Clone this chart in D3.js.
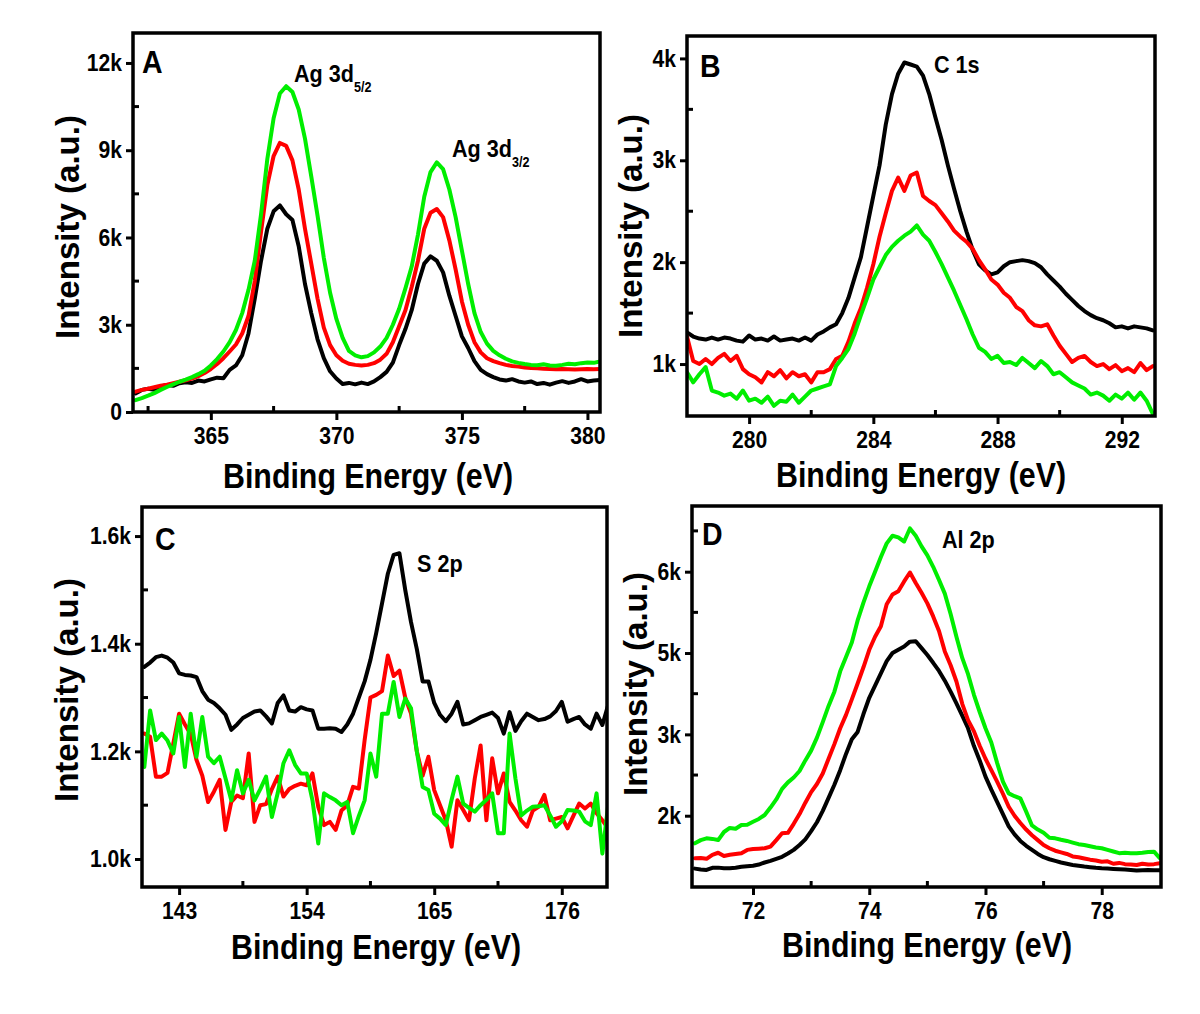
<!DOCTYPE html>
<html><head><meta charset="utf-8">
<script src="https://cdn.jsdelivr.net/npm/d3@7"></script>
<style>
body{margin:0;background:#fff;}
svg{display:block;}
text{font-family:"Liberation Sans",Arial,sans-serif;font-weight:bold;fill:#000;}
</style></head><body>
<script>
// ---------- DATA ----------
// Panel A : Ag 3d (energy grid 362.0 .. 380.5, step 0.25 eV)
const energyA = d3.range(0, 75).map(i => +(362 + i * 0.25).toFixed(2));
const agBlack = [640,760,800,760,880,930,900,990,1020,1000,1080,1050,1120,1180,1160,1450,1600,1950,2700,3900,5200,6300,6900,7100,6800,6600,5700,4400,3400,2500,1850,1400,1150,960,1000,950,1010,960,1050,1200,1380,1700,2300,2850,3500,4400,5100,5350,5200,4800,4000,3300,2600,2200,1750,1450,1300,1200,1120,1080,1130,1050,1010,1050,960,1000,940,1010,1060,1000,1050,1130,1050,1080,1100];
const agRed = [700,760,800,850,900,940,990,1040,1090,1150,1230,1340,1480,1650,1850,2080,2320,2700,3300,4500,6200,7800,8800,9250,9150,8650,7650,6300,5100,3900,2900,2300,1950,1760,1660,1620,1600,1620,1680,1800,2000,2400,2950,3500,4300,5200,6300,6850,6980,6700,5900,4900,3800,3000,2400,2050,1850,1750,1680,1620,1580,1560,1530,1510,1500,1490,1480,1470,1480,1470,1460,1470,1480,1470,1480];
const agGreen = [410,480,560,650,760,860,950,1040,1110,1200,1300,1420,1600,1820,2080,2400,2820,3400,4200,5200,6800,8700,10100,10950,11200,11000,10400,9400,8100,6750,5300,4100,3200,2550,2100,1950,1880,1920,2050,2250,2550,3000,3550,4250,5000,6100,7400,8250,8580,8350,7650,6700,5550,4400,3400,2750,2350,2100,1950,1830,1740,1690,1650,1620,1610,1640,1600,1590,1620,1660,1640,1680,1700,1690,1740];

// Panel B : C 1s (278.0 .. 293.0, step 0.2 eV)
const energyB = d3.range(0, 76).map(i => +(278 + i * 0.2).toFixed(2));
const cBlack = [1310,1270,1250,1240,1260,1240,1260,1250,1230,1220, 1280,1240,1250,1230,1270,1230,1240,1250,1230,1260, 1230,1290,1320,1360,1390,1500,1650,1850,2050,2350, 2650,2950,3350,3650,3850,3960,3940,3920,3830,3650, 3420,3200,2950,2720,2500,2300,2120,1980,1920,1880, 1900,1960,2000,2010,2020,2010,1990,1950,1880,1820, 1760,1690,1630,1570,1520,1480,1450,1430,1400,1360, 1370,1350,1370,1360,1350,1330];
const cRed = [1270,1030,1000,1050,1000,1060,1100,1030,1080,950, 900,870,820,920,880,940,860,920,880,900, 820,920,920,950,1050,1080,1220,1400,1550,1750, 1980,2250,2480,2700,2830,2700,2850,2880,2650,2600, 2560,2480,2400,2310,2250,2200,2130,2020,1930,1830, 1780,1700,1650,1560,1520,1430,1380,1370,1390,1280, 1180,1100,1020,1060,1080,1020,980,1000,950,990, 930,960,920,1010,940,980];
const cGreen = [920,820,900,970,740,720,690,710,660,740, 640,660,620,680,590,640,630,700,620,680, 740,760,780,800,980,1060,1150,1300,1480,1650, 1830,1950,2070,2150,2210,2260,2300,2360,2270,2210, 2100,1980,1850,1720,1580,1440,1290,1160,1120,1050, 1080,1010,1020,990,1060,1010,960,1030,980,900, 920,870,820,790,760,700,720,690,640,700, 660,720,650,720,640,510];

// Panel C : S 2p (140 .. 180, step 0.5 eV)
const energyC = d3.range(0, 81).map(i => 140 + i * 0.5);
const sBlack = [1357,1365,1375,1378,1374,1365,1345,1342,1341,1338, 1312,1296,1290,1280,1268,1240,1250,1262,1268,1274, 1276,1265,1252,1290,1304,1276,1274,1282,1278,1276, 1242,1242,1243,1242,1236,1250,1270,1300,1330,1370, 1420,1475,1530,1565,1568,1500,1440,1390,1330,1330, 1290,1268,1256,1270,1292,1250,1252,1258,1264,1268, 1272,1262,1233,1273,1238,1256,1270,1264,1258,1260, 1265,1275,1292,1255,1260,1264,1250,1242,1270,1249, 1286];
const sRed = [1233,1227,1153,1153,1160,1215,1270,1250,1232,1184, 1155,1106,1125,1147,1054,1106,1118,1113,1196,1069, 1100,1102,1130,1153,1116,1130,1136,1140,1137,1159, 1097,1063,1069,1054,1090,1100,1134,1131,1221,1300, 1305,1312,1378,1340,1350,1300,1270,1200,1155,1190, 1128,1100,1072,1023,1109,1091,1072,1150,1211,1072, 1187,1122,1159,1106,1090,1072,1060,1090,1097,1119, 1072,1075,1078,1057,1080,1103,1094,1103,1085,1072, 1057];
const sGreen = [1171,1276,1221,1233,1220,1196,1264,1171,1270,1190, 1264,1190,1178,1190,1150,1109,1165,1122,1147,1109, 1130,1153,1078,1122,1178,1202,1175,1159,1159,1109, 1029,1122,1115,1109,1100,1106,1048,1080,1109,1196, 1153,1270,1270,1329,1264,1298,1280,1200,1134,1128, 1084,1075,1063,1110,1153,1103,1095,1088,1100,1110, 1122,1048,1048,1233,1150,1081,1090,1097,1098,1100, 1081,1060,1070,1091,1090,1088,1070,1063,1122,1010, 1100];

// Panel D : Al 2p (71.0 .. 79.0, step 0.1 eV)
const energyD = d3.range(0, 81).map(i => +(71 + i * 0.1).toFixed(1));
const alBlack = [1350,1340,1333,1360,1362,1355,1354,1360,1372,1380, 1385,1400,1425,1445,1470,1495,1535,1580,1640,1710, 1810,1920,2060,2220,2380,2560,2760,2940,3060,3500, 3900,4200,4500,4800,5000,5040,5080,5140,5145,5060, 4950,4760,4560,4320,4050,3760,3460,3150,2860,2680, 2480,2320,2170,2020,1870,1770,1690,1630,1580,1530, 1490,1465,1445,1425,1410,1395,1385,1375,1368,1360, 1354,1350,1346,1342,1338,1334,1326,1330,1332,1330, 1330];
const alRed = [1477,1480,1470,1520,1545,1505,1520,1530,1540,1580, 1590,1595,1600,1620,1700,1784,1790,1900,2020,2160, 2290,2390,2520,2700,2880,3150,3480,3860,4250,4650, 5040,5200,5330,5600,5720,5760,5880,5990,5860,5740, 5610,5450,5270,5020,4700,4300,3750,3350,3080,2860, 2700,2560,2420,2270,2110,2000,1910,1830,1760,1700, 1640,1600,1570,1550,1530,1500,1490,1475,1460,1450, 1435,1440,1410,1420,1405,1400,1395,1410,1400,1405, 1415];
const alGreen = [1661,1700,1722,1715,1701,1800,1850,1840,1886,1890, 1926,1960,2009,2100,2200,2330,2410,2470,2550,2680, 2800,2960,3300,3700,4050,4550,4900,5130,5400,5620, 5820,6000,6180,6347,6440,6420,6370,6530,6440,6310, 6200,6060,5900,5730,5480,5200,4880,4480,3980,3550, 3150,2900,2650,2420,2275,2240,2213,2050,1880,1830, 1790,1730,1722,1705,1690,1670,1650,1640,1625,1610, 1600,1580,1560,1540,1545,1540,1538,1545,1555,1558, 1477];

// ticks & labels
const xTicksA = [365, 370, 375, 380], xMinorA = [362.5, 367.5, 372.5, 377.5];
const yTicksA = [0, 3000, 6000, 9000, 12000], yLabelsA = ["0", "3k", "6k", "9k", "12k"], yMinorA = [1500, 4500, 7500, 10500];
const xTicksB = [280, 284, 288, 292], xMinorB = [282, 286, 290];
const yTicksB = [1000, 2000, 3000, 4000], yLabelsB = ["1k", "2k", "3k", "4k"], yMinorB = [1500, 2500, 3500];
const xTicksC = [143, 154, 165, 176], xMinorC = [148.5, 159.5, 170.5];
const yTicksC = [1000, 1200, 1400, 1600], yLabelsC = ["1.0k", "1.2k", "1.4k", "1.6k"], yMinorC = [1100, 1300, 1500];
const xTicksD = [72, 74, 76, 78], xMinorD = [73, 75, 77];
const yTicksD = [2000, 3000, 5000, 6000], yLabelsD = ["2k", "3k", "5k", "6k"], yMinorD = [2500, 4000, 5500, 6500];

const colors = {black: "#000000", red: "#ff0000", green: "#00ee00"};
const xTitle = "Binding Energy (eV)", yTitle = "Intensity (a.u.)";

// ---------- DRAW ----------
const svg = d3.select("body").append("svg").attr("width", 1200).attr("height", 1014);
const K = 0.88; // horizontal condensing of the bold face

const panels = [
  {id: "A", box: [133, 33, 600, 412], xDom: [361.9, 380.5], yDom: [0, 13030],
   energy: energyA, series: [agBlack, agRed, agGreen],
   xTicks: xTicksA, xMinor: xMinorA, yTicks: yTicksA, yLabels: yLabelsA, yMinor: yMinorA,
   letter: [142, 73], yTitlePos: [79, 227], xTitlePos: [368, 488],
   notes: [{x: 294, y: 82, t: "Ag 3d", sub: "5/2"}, {x: 452, y: 157, t: "Ag 3d", sub: "3/2"}]},
  {id: "B", box: [687, 36, 1155, 416], xDom: [278, 293.07], yDom: [490, 4220],
   energy: energyB, series: [cBlack, cRed, cGreen],
   xTicks: xTicksB, xMinor: xMinorB, yTicks: yTicksB, yLabels: yLabelsB, yMinor: yMinorB,
   letter: [700, 77], yTitlePos: [642, 226], xTitlePos: [921, 487],
   notes: [{x: 934, y: 73, t: "C 1s"}]},
  {id: "C", box: [142, 507, 607, 887], xDom: [139.8, 179.9], yDom: [948, 1654],
   energy: energyC, series: [sBlack, sRed, sGreen],
   xTicks: xTicksC, xMinor: xMinorC, yTicks: yTicksC, yLabels: yLabelsC, yMinor: yMinorC,
   letter: [155, 550], yTitlePos: [78, 690], xTitlePos: [376, 959],
   notes: [{x: 417, y: 572, t: "S 2p"}]},
  {id: "D", box: [692, 506, 1161, 887], xDom: [70.95, 79.02],
   yDom: [1124, 2000, 3000, 5000, 6000, 6805], yFrac: [0, 0.1871, 0.4006, 0.6141, 0.8276, 1],
   energy: energyD, series: [alBlack, alRed, alGreen],
   xTicks: xTicksD, xMinor: xMinorD, yTicks: yTicksD, yLabels: yLabelsD, yMinor: yMinorD,
   letter: [702, 545], yTitlePos: [647, 684], xTitlePos: [927, 957],
   notes: [{x: 942, y: 548, t: "Al 2p"}]}
];
const seriesColors = [colors.black, colors.red, colors.green];

panels.forEach(p => {
  const [x0, y0, x1, y1] = p.box;
  const g = svg.append("g");
  const x = d3.scaleLinear().domain(p.xDom).range([x0, x1]);
  const y = d3.scaleLinear().domain(p.yDom)
    .range(p.yFrac ? p.yFrac.map(f => y1 - (y1 - y0) * f) : [y1, y0]);

  const clipId = "clip" + p.id;
  svg.append("clipPath").attr("id", clipId).append("rect")
    .attr("x", x0).attr("y", y0).attr("width", x1 - x0).attr("height", y1 - y0);

  const line = d3.line().x(d => x(d[0])).y(d => y(d[1]));
  p.series.forEach((vals, si) => {
    const n = Math.min(vals.length, p.energy.length);
    const pts = d3.range(n).map(i => [p.energy[i], vals[i]]);
    g.append("path").attr("d", line(pts)).attr("fill", "none")
      .attr("stroke", seriesColors[si]).attr("stroke-width", 4)
      .attr("stroke-linejoin", "round").attr("stroke-linecap", "round")
      .attr("clip-path", `url(#${clipId})`);
  });

  // bottom axis
  const xa = g.append("g").attr("transform", `translate(0,${y1})`)
    .call(d3.axisBottom(x).tickValues(p.xTicks).tickSize(8).tickPadding(7).tickFormat(d3.format("d")));
  xa.select(".domain").remove();
  xa.selectAll(".tick line").attr("stroke", "#000").attr("stroke-width", 3);
  xa.selectAll(".tick text").attr("font-size", 24).attr("font-family", "Liberation Sans, Arial, sans-serif")
    .attr("font-weight", "bold").attr("transform", `scale(${K},1)`);

  // left axis
  const ya = g.append("g").attr("transform", `translate(${x0},0)`)
    .call(d3.axisLeft(y).tickValues(p.yTicks).tickSize(7).tickPadding(4)
      .tickFormat((d, i) => p.yLabels[i]));
  ya.select(".domain").remove();
  ya.selectAll(".tick line").attr("stroke", "#000").attr("stroke-width", 3);
  ya.selectAll(".tick text").attr("font-size", 24).attr("font-family", "Liberation Sans, Arial, sans-serif")
    .attr("font-weight", "bold").attr("x", -11 / K).attr("transform", `scale(${K},1)`);

  // minor ticks (inside)
  g.selectAll(".mx").data(p.xMinor).join("line")
    .attr("x1", d => x(d)).attr("x2", d => x(d)).attr("y1", y1).attr("y2", y1 - 6)
    .attr("stroke", "#000").attr("stroke-width", 3);
  g.selectAll(".my").data(p.yMinor).join("line")
    .attr("x1", x0).attr("x2", x0 + 6).attr("y1", d => y(d)).attr("y2", d => y(d))
    .attr("stroke", "#000").attr("stroke-width", 3);

  // frame
  g.append("rect").attr("x", x0).attr("y", y0).attr("width", x1 - x0).attr("height", y1 - y0)
    .attr("fill", "none").attr("stroke", "#000").attr("stroke-width", 3.5);

  // panel letter
  g.append("text").attr("x", p.letter[0] / 0.92).attr("y", p.letter[1]).attr("font-size", 31)
    .attr("transform", "scale(0.92,1)").text(p.id);

  // annotations
  p.notes.forEach(n => {
    const t = g.append("text").attr("x", n.x / 0.9).attr("y", n.y).attr("font-size", 24)
      .attr("transform", "scale(0.9,1)");
    t.append("tspan").text(n.t);
    if (n.sub) t.append("tspan").attr("font-size", 14).attr("dy", 10).text(n.sub);
  });

  // axis titles
  g.append("text").attr("x", p.xTitlePos[0]).attr("y", p.xTitlePos[1])
    .attr("text-anchor", "middle").attr("font-size", 35)
    .attr("textLength", 290).attr("lengthAdjust", "spacingAndGlyphs").text(xTitle);
  g.append("text").attr("transform", `translate(${p.yTitlePos[0]},${p.yTitlePos[1]}) rotate(-90)`)
    .attr("text-anchor", "middle").attr("font-size", 34)
    .attr("textLength", 224).attr("lengthAdjust", "spacingAndGlyphs").text(yTitle);
});
</script>
</body></html>
